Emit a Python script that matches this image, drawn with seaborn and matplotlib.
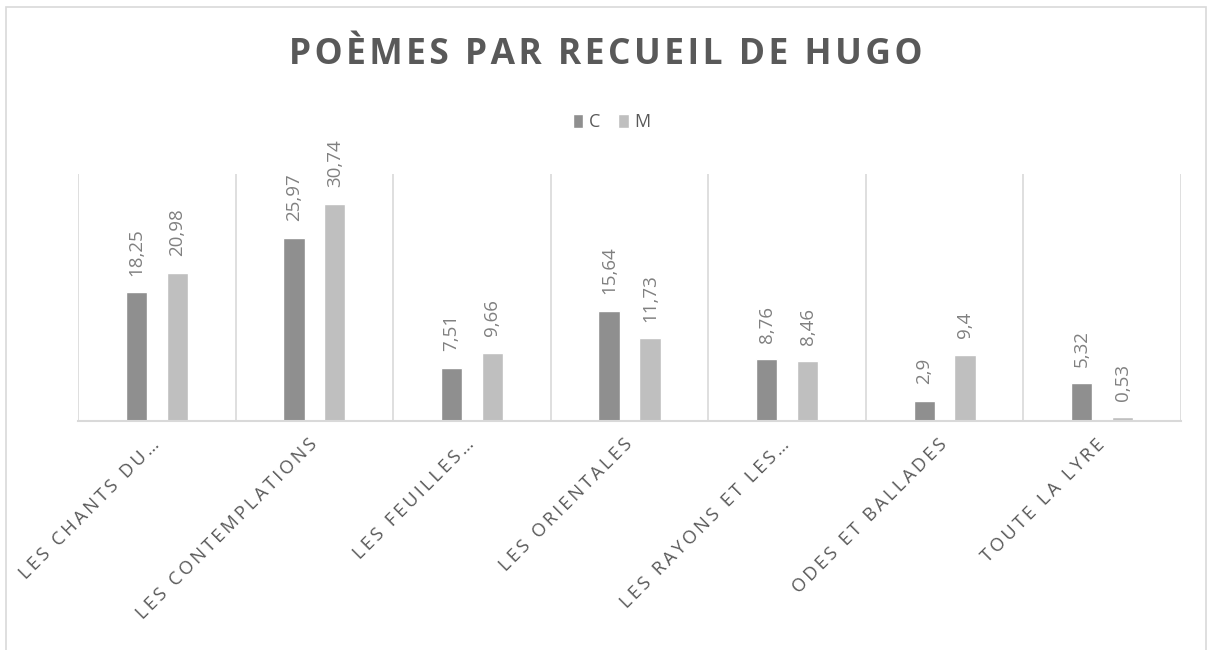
import matplotlib
matplotlib.use("Agg")
import matplotlib.pyplot as plt
from matplotlib.patches import Rectangle
import seaborn as sns
import pandas as pd

recueils = ["Les Chants du crépuscule", "Les Contemplations", "Les Feuilles d'automne",
            "Les Orientales", "Les Rayons et les ombres", "Odes et Ballades", "Toute la lyre"]
tick_labels = ["LES CHANTS DU…", "LES CONTEMPLATIONS", "LES FEUILLES…", "LES ORIENTALES",
               "LES RAYONS ET LES…", "ODES ET BALLADES", "TOUTE LA LYRE"]
serie_c = [18.25, 25.97, 7.51, 15.64, 8.76, 2.9, 5.32]
serie_m = [20.98, 30.74, 9.66, 11.73, 8.46, 9.4, 0.53]

df = pd.DataFrame({
    "recueil": recueils * 2,
    "serie": ["C"] * len(recueils) + ["M"] * len(recueils),
    "valeur": serie_c + serie_m,
})

sns.set_theme(style="white")
plt.rcParams["font.family"] = ["Open Sans", "DejaVu Sans"]

txt = "#595959"
grid = "#d9d9d9"

fig = plt.figure(figsize=(12.11, 6.5), dpi=100)
ax = fig.add_axes([78 / 1211, 229 / 650, 1103 / 1211, 247 / 650])

sns.barplot(data=df, x="recueil", y="valeur", hue="serie",
            palette={"C": "#8f8f8f", "M": "#bfbfbf"},
            width=0.52, gap=0.48, errorbar=None, saturation=1, ax=ax)

# data labels, decimal comma
for cont, vals in zip(ax.containers, [serie_c, serie_m]):
    ax.bar_label(cont, labels=[f"{v:g}".replace(".", ",") for v in vals],
                 rotation=90, padding=12, fontsize=13.5, color="#808080")

ax.set_xlim(-0.5, len(recueils) - 0.5)
ax.set_ylim(0, 35)
ax.set_yticks([])
ax.set_xlabel("")
ax.set_ylabel("")

# vertical gridlines between categories
for b in range(len(recueils) + 1):
    ax.axvline(b - 0.5, color=grid, lw=1.2, zorder=0)

for s in ["top", "left", "right"]:
    ax.spines[s].set_visible(False)
ax.spines["bottom"].set_color(grid)
ax.spines["bottom"].set_linewidth(1.5)

ax.set_xticks(range(len(recueils)))
ax.set_xticklabels(["\u2009".join(t) for t in tick_labels], rotation=45, ha="right",
                   va="center", rotation_mode="anchor", fontsize=13.2, color=txt)
ax.tick_params(axis="x", length=0, pad=15)

ax.legend_.remove()
handles, labels = ax.get_legend_handles_labels()
fig.legend(handles, labels, loc="center", bbox_to_anchor=(0.505, 1 - 122 / 650), ncol=2,
           frameon=False, handlelength=0.6, handleheight=0.8, handletextpad=0.3,
           columnspacing=1.0, fontsize=13, labelcolor=txt)

fig.text(0.5, 1 - 55 / 650, "\u200a".join("POÈMES PAR RECUEIL DE HUGO"), ha="center",
         va="center", fontsize=25.5, fontweight="bold", color=txt)

fig.add_artist(Rectangle((6 / 1211, -0.05), 1200 / 1211, 643 / 650 + 0.05,
                         transform=fig.transFigure, fill=False, ec=grid, lw=1.2))

fig.savefig("out.png", dpi=100)
